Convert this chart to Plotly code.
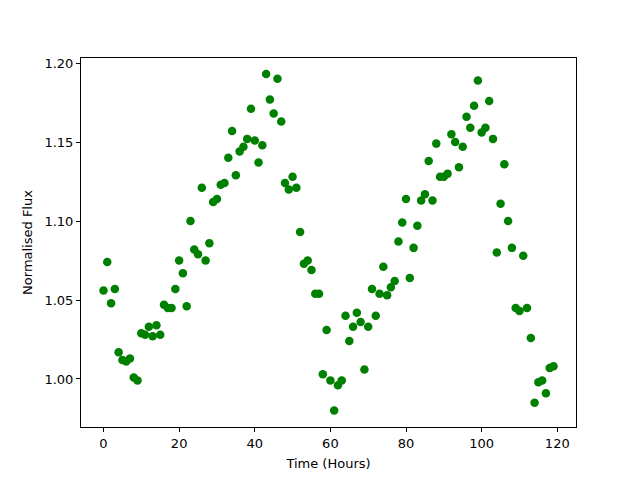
import plotly.graph_objects as go

hours = list(range(120))
flux = [
    1.056, 1.074, 1.048, 1.057, 1.017, 1.012, 1.011, 1.013, 1.001, 0.999,
    1.029, 1.028, 1.033, 1.027, 1.034, 1.028, 1.047, 1.045, 1.045, 1.057,
    1.075, 1.067, 1.046, 1.100, 1.082, 1.079, 1.121, 1.075, 1.086, 1.112,
    1.114, 1.123, 1.124, 1.140, 1.157, 1.129, 1.144, 1.147, 1.152, 1.171,
    1.151, 1.137, 1.148, 1.193, 1.177, 1.168, 1.190, 1.163, 1.124, 1.120,
    1.128, 1.121, 1.093, 1.073, 1.075, 1.069, 1.054, 1.054, 1.003, 1.031,
    0.999, 0.980, 0.996, 0.999, 1.040, 1.024, 1.033, 1.042, 1.036, 1.006,
    1.033, 1.057, 1.040, 1.054, 1.071, 1.053, 1.058, 1.062, 1.087, 1.099,
    1.114, 1.064, 1.083, 1.097, 1.113, 1.117, 1.138, 1.113, 1.149, 1.128,
    1.128, 1.130, 1.155, 1.150, 1.134, 1.147, 1.166, 1.159, 1.173, 1.189,
    1.156, 1.159, 1.176, 1.152, 1.080, 1.111, 1.136, 1.100, 1.083, 1.045,
    1.043, 1.078, 1.045, 1.026, 0.985, 0.998, 0.999, 0.991, 1.007, 1.008,
]

x_ticks = [0, 20, 40, 60, 80, 100, 120]
y_ticks = [1.00, 1.05, 1.10, 1.15, 1.20]

fig = go.Figure(go.Scatter(
    x=hours, y=flux, mode="markers",
    marker=dict(color="#008000", size=8.5, line=dict(width=0)),
))

axis_common = dict(
    showgrid=False, zeroline=False, showline=True, linecolor="black", linewidth=1,
    mirror=True, ticks="outside", ticklen=4, tickwidth=1, tickcolor="black",
    tickfont=dict(family="DejaVu Sans", size=13, color="black"),
    automargin=False,
)

fig.update_layout(
    width=632, height=472,
    margin=dict(l=73, r=64, t=50, b=53),
    paper_bgcolor="white", plot_bgcolor="white",
    showlegend=False,
    font=dict(family="DejaVu Sans", size=13, color="black"),
    xaxis=dict(axis_common, range=[-5.95, 124.95], tickvals=x_ticks,
               title=dict(text="Time (Hours)", standoff=9,
                          font=dict(family="DejaVu Sans", size=13))),
    yaxis=dict(axis_common, range=[0.9696, 1.2032], tickvals=y_ticks,
               tickformat=".2f",
               title=dict(text="Normalised Flux", standoff=8,
                          font=dict(family="DejaVu Sans", size=13))),
)

fig.write_html("out.html")
